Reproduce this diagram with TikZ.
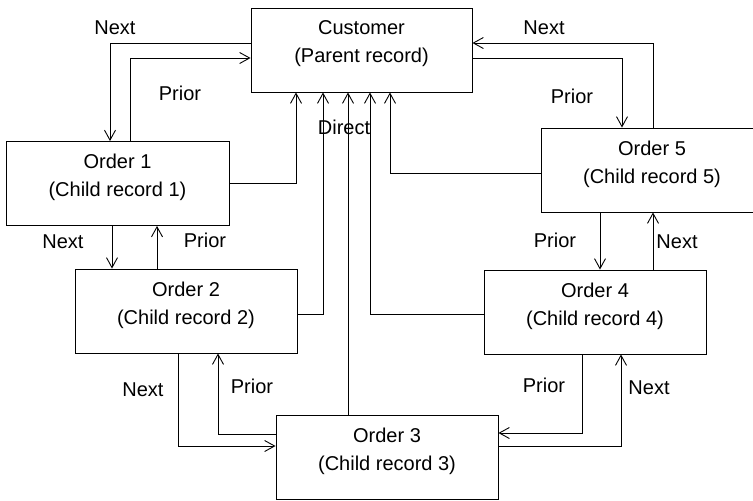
\documentclass[tikz,border=0pt]{standalone}
\usepackage{fontspec}
\setmainfont{Liberation Sans}
\usetikzlibrary{arrows.meta}

\begin{document}
\begin{tikzpicture}[x=1pt,y=-1pt,
  line width=0.9pt,
  every node/.style={font=\fontsize{20}{28}\selectfont},
  record/.style={rectangle,draw,minimum width=222pt,minimum height=84pt,
    align=center,text depth=16pt},
  link/.style={-{Straight Barb[length=10pt,width=11pt]}},
  lbl/.style={inner sep=0pt}
]
\useasboundingbox (0,0) rectangle (753,501);

% record boxes
\node[record,minimum width=221pt] (cust) at (361.5,50) {Customer\\(Parent record)};
\node[record,minimum width=223pt] (o1) at (117.5,183.5) {Order 1\\(Child record 1)};
\node[record] (o2) at (186,311) {Order 2\\(Child record 2)};
\node[record] (o3) at (387,457.5) {Order 3\\(Child record 3)};
\node[record] (o4) at (595,312) {Order 4\\(Child record 4)};
\node[record] (o5) at (652,170) {Order 5\\(Child record 5)};

% parent <-> first and last child
\draw[link] (cust.west |- 0,43) -| (o1.north -| 110,0);
\draw[link] (o1.north -| 130,0) |- (cust.west |- 0,58);
\draw[link] (cust.east |- 0,58) -| (o5.north -| 622,0);
\draw[link] (o5.north -| 653,0) |- (cust.east |- 0,43);

% direct links up to the parent
\draw[link] (o1.east |- 0,183) -| (cust.south -| 296,0);
\draw[link] (o2.east |- 0,314) -| (cust.south -| 323,0);
\draw[link] (o3.north -| 348,0) -- (cust.south -| 348,0);
\draw[link] (o4.west |- 0,314) -| (cust.south -| 370,0);
\draw[link] (o5.west |- 0,173) -| (cust.south -| 390,0);

% chain between children
\draw[link] (o1.south -| 112,0) -- (o2.north -| 112,0);
\draw[link] (o2.north -| 157,0) -- (o1.south -| 157,0);
\draw[link] (o2.south -| 178,0) |- (o3.west |- 0,446);
\draw[link] (o3.west |- 0,434) -| (o2.south -| 218,0);
\draw[link] (o4.south -| 582,0) |- (o3.east |- 0,433);
\draw[link] (o3.east |- 0,446) -| (o4.south -| 621,0);
\draw[link] (o5.south -| 600,0) -- (o4.north -| 600,0);
\draw[link] (o4.north -| 653,0) -- (o5.south -| 653,0);

% labels
\node[lbl] (n1) at (115,28) {Next};
\node[lbl] (p1) at (180,93) {Prior};
\node[lbl] (n5) at (544,28) {Next};
\node[lbl] (p5) at (572,96) {Prior};
\node[lbl] (dir) at (344,127) {Direct};
\node[lbl] (n12) at (63,242) {Next};
\node[lbl] (p12) at (205,240) {Prior};
\node[lbl] (p54) at (555,240) {Prior};
\node[lbl] (n54) at (677,242) {Next};
\node[lbl] (n23) at (143,390) {Next};
\node[lbl] (p23) at (252,386) {Prior};
\node[lbl] (p43) at (544,385) {Prior};
\node[lbl] (n43) at (649,388) {Next};

\end{tikzpicture}
\end{document}
